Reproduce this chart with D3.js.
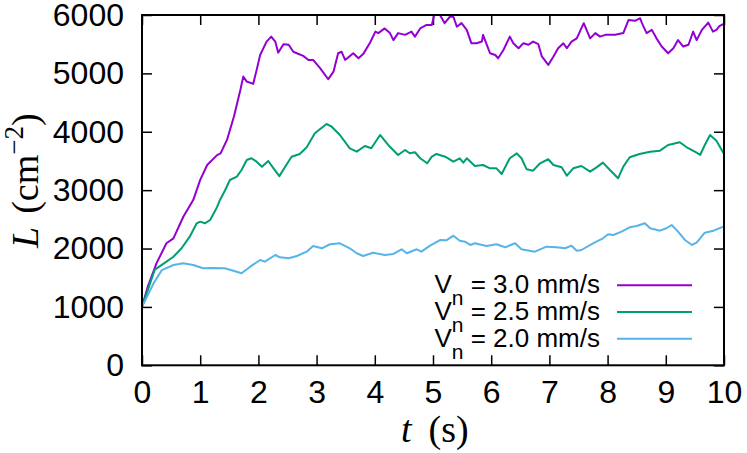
<!DOCTYPE html>
<html><head><meta charset="utf-8">
<script src="https://cdn.jsdelivr.net/npm/d3@7"></script>
<style>body{margin:0;background:#fff}svg{display:block}</style>
</head><body><svg id="c" width="747" height="453"></svg>
<script>
const xTicks = [0,1,2,3,4,5,6,7,8,9,10];
const yTicks = [0,1000,2000,3000,4000,5000,6000];
const legendLabels = ["3.0 mm/s","2.5 mm/s","2.0 mm/s"];
const seriesColors = ["#9400d3","#009e73","#56b4e9"];

const vn30 = [[0,1000],[0.1,1350],[0.25,1750],[0.42,2090],[0.54,2175],[0.71,2545],[0.88,2830],[1.0,3175],[1.12,3430],[1.29,3600],[1.35,3630],[1.46,3860],[1.58,4260],[1.69,4715],[1.74,4945],[1.80,4860],[1.91,4820],[1.97,5060],[2.03,5315],[2.14,5545],[2.22,5630],[2.29,5545],[2.34,5355],[2.43,5500],[2.52,5490],[2.60,5370],[2.66,5345],[2.77,5300],[2.86,5230],[2.94,5230],[3.06,5090],[3.20,4900],[3.29,5030],[3.37,5345],[3.43,5370],[3.49,5230],[3.63,5345],[3.72,5260],[3.80,5330],[3.92,5530],[4.01,5715],[4.06,5690],[4.17,5770],[4.26,5690],[4.32,5570],[4.40,5690],[4.52,5660],[4.63,5715],[4.69,5630],[4.78,5770],[4.89,5830],[4.98,5830],[5.02,6000],[5.12,6000],[5.20,5860],[5.29,5970],[5.35,5970],[5.41,5800],[5.49,5860],[5.58,5745],[5.66,5515],[5.75,5515],[5.84,5545],[5.86,5660],[5.92,5500],[5.98,5345],[6.07,5315],[6.12,5260],[6.21,5400],[6.32,5630],[6.38,5515],[6.47,5430],[6.55,5515],[6.64,5490],[6.72,5545],[6.81,5500],[6.87,5290],[6.98,5145],[7.07,5290],[7.15,5430],[7.24,5515],[7.30,5430],[7.38,5545],[7.47,5600],[7.59,5860],[7.70,5600],[7.79,5690],[7.87,5630],[7.96,5660],[8.04,5660],[8.13,5660],[8.27,5690],[8.36,5915],[8.47,5900],[8.56,5945],[8.59,5860],[8.67,5690],[8.76,5745],[8.84,5600],[8.93,5460],[9.04,5345],[9.13,5430],[9.21,5570],[9.30,5460],[9.39,5490],[9.47,5715],[9.53,5570],[9.62,5745],[9.73,5870],[9.81,5715],[9.87,5745],[9.92,5810],[10.0,5850]];

const vn25 = [[0,1000],[0.22,1640],[0.31,1700],[0.42,1775],[0.54,1860],[0.68,2004],[0.82,2203],[0.94,2432],[1.0,2460],[1.08,2432],[1.17,2489],[1.28,2689],[1.34,2832],[1.43,3003],[1.51,3174],[1.63,3231],[1.71,3345],[1.80,3517],[1.88,3546],[1.97,3488],[2.06,3402],[2.17,3500],[2.26,3374],[2.36,3240],[2.46,3402],[2.57,3573],[2.71,3620],[2.83,3734],[2.97,3974],[3.17,4133],[3.26,4087],[3.40,3945],[3.57,3717],[3.69,3659],[3.83,3757],[3.94,3717],[4.09,3945],[4.23,3774],[4.40,3602],[4.52,3688],[4.60,3631],[4.69,3649],[4.78,3546],[4.90,3460],[4.98,3573],[5.06,3620],[5.21,3573],[5.35,3488],[5.46,3546],[5.52,3471],[5.58,3546],[5.72,3414],[5.86,3431],[5.98,3374],[6.09,3374],[6.18,3277],[6.32,3546],[6.44,3631],[6.52,3546],[6.61,3357],[6.72,3334],[6.84,3460],[6.98,3529],[7.07,3431],[7.21,3391],[7.30,3248],[7.41,3374],[7.55,3414],[7.70,3317],[7.81,3391],[7.92,3471],[8.04,3345],[8.18,3203],[8.27,3402],[8.38,3563],[8.55,3620],[8.73,3659],[8.90,3676],[9.04,3774],[9.24,3820],[9.36,3734],[9.53,3642],[9.59,3602],[9.67,3774],[9.76,3945],[9.87,3848],[10.0,3620]];

const vn20 = [[0,1000],[0.2,1405],[0.34,1630],[0.54,1718],[0.71,1747],[0.88,1718],[1.05,1662],[1.22,1665],[1.42,1662],[1.57,1620],[1.71,1576],[1.86,1689],[2.03,1804],[2.11,1775],[2.29,1889],[2.37,1850],[2.52,1833],[2.66,1872],[2.83,1946],[2.94,2043],[3.09,2004],[3.23,2073],[3.40,2090],[3.57,2004],[3.69,1919],[3.80,1872],[3.97,1929],[4.17,1889],[4.32,1907],[4.46,1987],[4.55,1919],[4.72,1987],[4.80,1946],[4.95,2050],[5.12,2146],[5.23,2140],[5.35,2220],[5.46,2134],[5.55,2117],[5.64,2061],[5.72,2090],[5.92,2043],[6.09,2073],[6.24,2021],[6.41,2090],[6.52,1987],[6.75,1946],[6.95,2032],[7.12,2021],[7.27,2004],[7.38,2049],[7.47,1963],[7.55,1975],[7.75,2090],[7.92,2175],[8.01,2244],[8.10,2232],[8.24,2289],[8.38,2364],[8.50,2386],[8.64,2432],[8.73,2347],[8.90,2306],[9.01,2347],[9.10,2403],[9.21,2289],[9.33,2146],[9.45,2061],[9.53,2100],[9.67,2272],[9.82,2306],[10.0,2380]];

const series = [vn30, vn25, vn20];

const svg = d3.select("#c");
const L = 142, R = 724, T = 15, B = 365.3;
const x = d3.scaleLinear().domain([0,10]).range([L,R]);
const y = d3.scaleLinear().domain([0,6000]).range([B,T]);
const tickFont = "'Liberation Sans', Arial, sans-serif";
const tl = 10;

svg.append("defs").append("clipPath").attr("id","clip")
  .append("rect").attr("x",L).attr("y",T).attr("width",R-L).attr("height",B-T);

const gx = svg.append("g").attr("transform",`translate(0,${B})`)
  .call(d3.axisBottom(x).tickValues(xTicks).tickSizeInner(-tl).tickSizeOuter(0).tickPadding(15).tickFormat(d3.format("d")));
const gxt = svg.append("g").attr("transform",`translate(0,${T})`)
  .call(d3.axisTop(x).tickValues(xTicks).tickSizeInner(-tl).tickSizeOuter(0).tickFormat(""));
const gy = svg.append("g").attr("transform",`translate(${L},0)`)
  .call(d3.axisLeft(y).tickValues(yTicks).tickSizeInner(-tl).tickSizeOuter(0).tickPadding(18).tickFormat(d3.format("d")));
const gyr = svg.append("g").attr("transform",`translate(${R},0)`)
  .call(d3.axisRight(y).tickValues(yTicks).tickSizeInner(-tl).tickSizeOuter(0).tickFormat(""));
[gx,gxt,gy,gyr].forEach(g=>{
  g.select(".domain").remove();
  g.selectAll(".tick line").attr("stroke","#000").attr("stroke-width",1.5);
  g.selectAll(".tick text").attr("font-family",tickFont).attr("font-size",32).attr("fill","#000");
});
gx.selectAll(".tick text").attr("dy","0.71em");

const line = d3.line().x(d=>x(d[0])).y(d=>y(d[1]));
const gl = svg.append("g").attr("clip-path","url(#clip)");
series.forEach((s,i)=>{
  gl.append("path").datum(s).attr("d",line).attr("fill","none")
    .attr("stroke",seriesColors[i]).attr("stroke-width",2).attr("stroke-linejoin","round");
});

svg.append("rect").attr("x",L).attr("y",T).attr("width",R-L).attr("height",B-T)
  .attr("fill","none").attr("stroke","#000").attr("stroke-width",2);

const legY = [293.3, 320, 346.7];
legendLabels.forEach((lab,i)=>{
  const t = svg.append("text").attr("x",600).attr("y",legY[i]).attr("text-anchor","end")
    .attr("font-family",tickFont).attr("font-size",26).attr("fill","#000");
  t.append("tspan").text("V");
  t.append("tspan").attr("dy",12).attr("font-size",21).text("n");
  t.append("tspan").attr("dy",-12).text(" = " + lab);
  svg.append("line").attr("x1",617).attr("x2",692).attr("y1",legY[i]-8).attr("y2",legY[i]-8)
    .attr("stroke",seriesColors[i]).attr("stroke-width",2);
});

const serif = "'Liberation Serif', 'Times New Roman', serif";
const yl = svg.append("text").attr("transform","translate(38,248) rotate(-90)")
  .attr("text-anchor","start").attr("font-family",serif).attr("font-size",38).attr("fill","#000");
yl.append("tspan").attr("font-style","italic").text("L");
yl.append("tspan").attr("dx",13).text("(cm");
yl.append("tspan").attr("dy",-15).attr("font-size",27).text("−2");
yl.append("tspan").attr("dy",15).text(")");

const xl = svg.append("text").attr("x",401).attr("y",442).attr("text-anchor","start")
  .attr("font-family",serif).attr("font-size",38).attr("fill","#000");
xl.append("tspan").attr("font-style","italic").text("t");
xl.append("tspan").attr("dx",17).text("(s)");
</script></body></html>
